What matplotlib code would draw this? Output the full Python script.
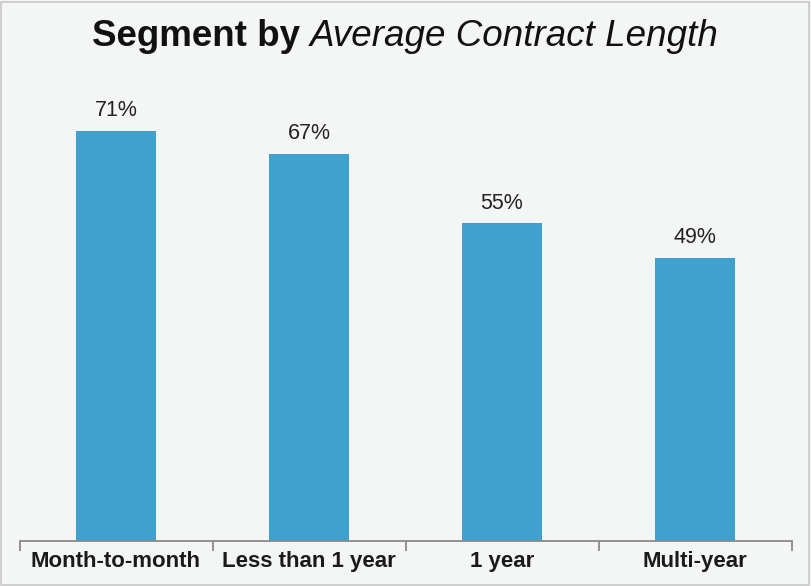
import matplotlib
matplotlib.use("Agg")
import matplotlib.pyplot as plt
from matplotlib import font_manager as fm

categories = ["Month-to-month", "Less than 1 year", "1 year", "Multi-year"]
values = [71, 67, 55, 49]
value_labels = ["71%", "67%", "55%", "49%"]

names = {f.name for f in fm.fontManager.ttflist}
narrow = "Liberation Sans Narrow" if "Liberation Sans Narrow" in names else "Liberation Sans"

W, H = 811, 586
fig = plt.figure(figsize=(W / 100, H / 100), dpi=100)
bg = "#f4f5f5"
fig.patch.set_facecolor(bg)

# outer border
fig.add_artist(plt.Rectangle((1 / W, 1 / H), 1 - 3 / W, 1 - 3 / H, transform=fig.transFigure,
                             fill=False, edgecolor="#c8c8c8", linewidth=1.2))

left, right = 19.5 / W, 791.5 / W
bottom = (H - 541) / H
top_px = 90
ax = fig.add_axes([left, bottom, right - left, (541 - top_px) / H])
ax.set_facecolor(bg)
x = list(range(len(categories)))
ax.bar(x, values, width=0.41, color="#3fa1cd")
ax.set_xlim(-0.5, len(categories) - 0.5)
ax.set_ylim(0, (541 - top_px) / 5.775)

for xi, v, lab in zip(x, values, value_labels):
    ax.annotate(lab, (xi, v), xytext=(0, 7), textcoords="offset points", ha="center", va="bottom",
                fontsize=15.5, family="Liberation Sans", color="#222222")

for s in ["top", "left", "right"]:
    ax.spines[s].set_visible(False)
ax.spines["bottom"].set_color("#8a8a8a")
ax.spines["bottom"].set_linewidth(1.3)
ax.set_yticks([])
ax.set_xticks([i - 0.5 for i in range(len(categories) + 1)])
ax.set_xticklabels([])
ax.tick_params(axis="x", direction="out", length=7, width=1.3, color="#8a8a8a")
ax.set_xticks(x, minor=True)
ax.set_xticklabels(categories, minor=True, fontsize=16, fontweight="bold", family=narrow, color="#1a1a1a")
ax.tick_params(axis="x", which="minor", length=0, pad=7)

# title: bold + italic parts
t1 = fig.text(0.5, 1 - 46 / H, "Segment by ", fontsize=26.5, fontweight="bold",
              family="Liberation Sans", ha="left", va="baseline", color="#111111")
t2 = fig.text(0.5, 1 - 46 / H, "Average Contract Length", fontsize=26.5, fontstyle="italic",
              family="Liberation Sans", ha="left", va="baseline", color="#111111")
fig.canvas.draw()
r = fig.canvas.get_renderer()
w1 = t1.get_window_extent(r).width
w2 = t2.get_window_extent(r).width
start = (W - (w1 + w2)) / 2
t1.set_x(start / W)
t2.set_x((start + w1) / W)

fig.savefig("out.png", dpi=100, facecolor=bg)
